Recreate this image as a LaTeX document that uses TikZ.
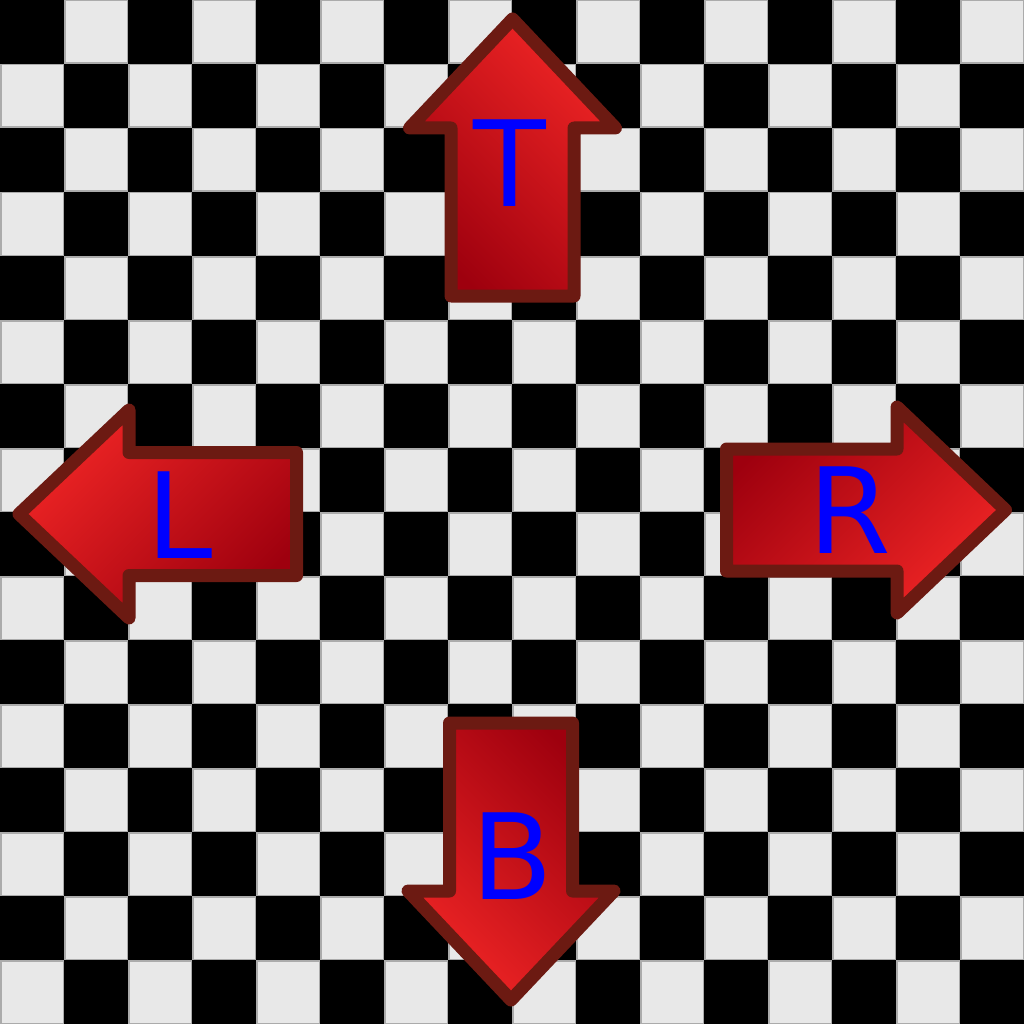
\documentclass[tikz,border=0pt]{standalone}
\usepackage{fontspec}
\setmainfont{DejaVu Sans}
\definecolor{tilelight}{HTML}{E8E8E8}
\definecolor{tileedge}{HTML}{ABABAB}
\definecolor{arrowedge}{HTML}{6C1A12}
\definecolor{arrowbright}{HTML}{EF2525}
\definecolor{arrowdark}{HTML}{9E000E}
\definecolor{labelblue}{HTML}{0000FF}
\tikzset{
  arrowshape/.style={draw=arrowedge, line width=13pt, line join=round,
    top color=arrowbright, bottom color=arrowdark},
  lightsq/.style={fill=tilelight, draw=tileedge, line width=1.5pt},
  arrowlabel/.style={text=labelblue, inner sep=0pt, anchor=base,
    font=\fontsize{119}{130}\selectfont}
}
\begin{document}
\begin{tikzpicture}[x=1pt, y=-1pt]
\useasboundingbox (0,0) rectangle (1024,1024);
% board
\fill[black] (0,0) rectangle (1024,1024);
\foreach \i in {0,2,...,14}{
  \foreach \j in {1,3,...,15}{
    \path[lightsq] (\i*64+0.75,\j*64+0.75) rectangle (\i*64+63.25,\j*64+63.25);
    \path[lightsq] (\j*64+0.75,\i*64+0.75) rectangle (\j*64+63.25,\i*64+63.25);
  }
}
% arrows
\shadedraw[arrowshape, shading angle=-45]
  (512.5,19) -- (615.5,128) -- (574,128) -- (574,296) -- (451,296) -- (451,128) -- (409.5,128) -- cycle;
\shadedraw[arrowshape, shading angle=135]
  (511,1000) -- (614,891) -- (572.5,891) -- (572.5,723) -- (449.5,723) -- (449.5,891) -- (408,891) -- cycle;
\shadedraw[arrowshape, shading angle=45]
  (19,514) -- (129,410) -- (129,452.5) -- (296.5,452.5) -- (296.5,575.5) -- (129,575.5) -- (129,618) -- cycle;
\shadedraw[arrowshape, shading angle=-135]
  (1005.5,510) -- (897,407) -- (897,449) -- (726.5,449) -- (726.5,571) -- (897,571) -- (897,613) -- cycle;
% labels
\node[arrowlabel] (t) at (510,207) {T};
\node[arrowlabel] (l) at (180,558) {L};
\node[arrowlabel] (r) at (850,553) {R};
\node[arrowlabel] (b) at (512,899) {B};
\end{tikzpicture}
\end{document}
